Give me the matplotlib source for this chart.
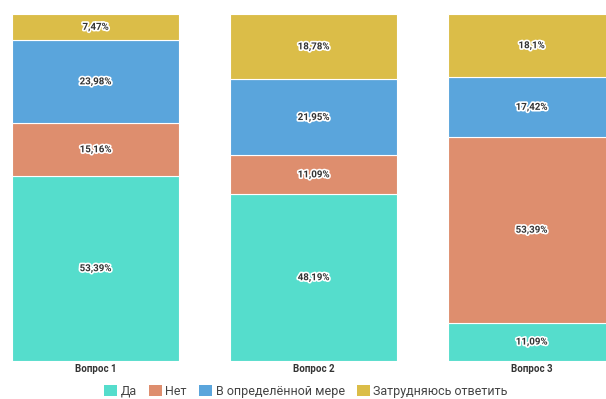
import matplotlib
matplotlib.use("Agg")
import matplotlib.pyplot as plt
import matplotlib.patheffects as pe
from matplotlib.patches import Patch

categories = ["Вопрос 1", "Вопрос 2", "Вопрос 3"]
series_names = ["Да", "Нет", "В определённой мере", "Затрудняюсь ответить"]
da = [53.39, 48.19, 11.09]
net = [15.16, 11.09, 53.39]
v_opr = [23.98, 21.95, 17.42]
zatr = [7.47, 18.78, 18.1]
labels_da = ["53,39%", "48,19%", "11,09%"]
labels_net = ["15,16%", "11,09%", "53,39%"]
labels_v = ["23,98%", "21,95%", "17,42%"]
labels_z = ["7,47%", "18,78%", "18,1%"]

colors = ["#55ddcc", "#de8e6e", "#5aa5dc", "#dbbd48"]

plt.rcParams['font.family'] = ['Roboto', 'DejaVu Sans']

fig = plt.figure(figsize=(6.06, 3.99), dpi=100)
ax = fig.add_axes([0, 38/399, 1, (361-14)/399])

x = list(range(len(categories)))
width = 167/218
bottom = [0, 0, 0]
for vals, labs, col in zip([da, net, v_opr, zatr], [labels_da, labels_net, labels_v, labels_z], colors):
    bars = ax.bar(x, vals, width=width, bottom=bottom, color=col, edgecolor="white", linewidth=0.8)
    for xi, v, b, lab in zip(x, vals, bottom, labs):
        t = ax.text(xi, b + v/2, lab, ha="center", va="center", fontsize=7, fontweight="bold", color="#333333")
        t.set_path_effects([pe.withStroke(linewidth=2.4, foreground="white")])
    bottom = [b + v for b, v in zip(bottom, vals)]

ax.set_xlim(-95.5/218, (606-95.5)/218)
ax.set_ylim(0, 100)
ax.set_xticks(x)
ax.set_xticklabels(categories, fontsize=7, fontweight="bold", color="#333333")
ax.tick_params(axis="x", length=0, pad=2)
ax.set_yticks([])
for s in ax.spines.values():
    s.set_visible(False)

handles = [Patch(facecolor=c, edgecolor="none") for c in colors]
fig.legend(handles, series_names, loc="lower center", bbox_to_anchor=(0.505, -0.025), ncol=4, frameon=False,
           fontsize=9, handlelength=1.0, handleheight=1.0, handletextpad=0.3, columnspacing=1.0,
           labelcolor="#444444")

fig.savefig("out.png", dpi=100, facecolor="white")
